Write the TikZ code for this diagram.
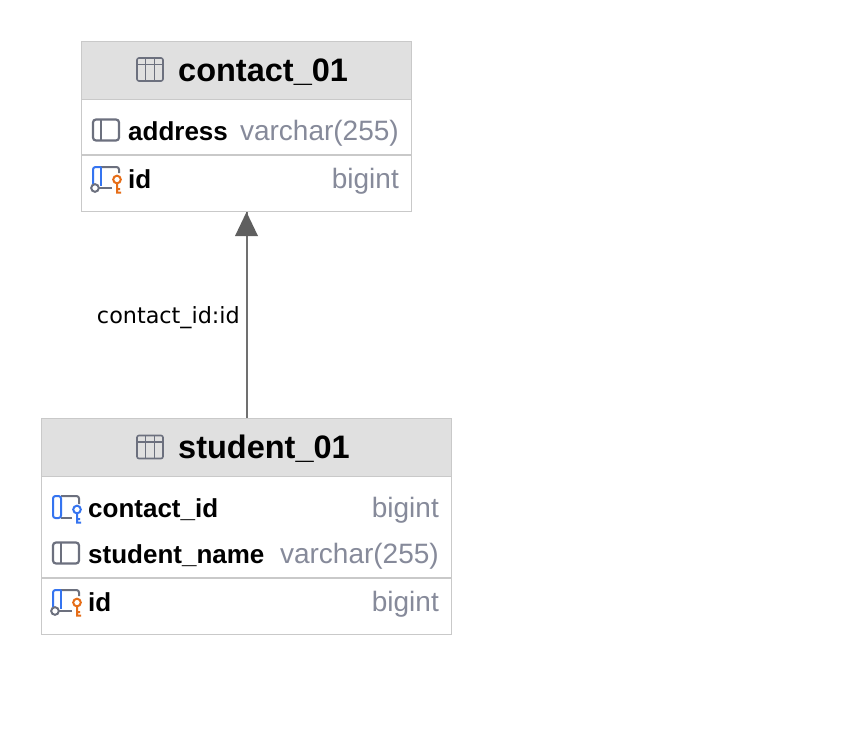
\documentclass[tikz,border=0pt]{standalone}
\usepackage{fontspec}
\setmainfont{Liberation Sans}
\newfontfamily\labelfont{DejaVu Sans}
\definecolor{headfill}{HTML}{E0E0E0}
\definecolor{boxline}{HTML}{C9C9C9}
\definecolor{typegrey}{HTML}{868A9A}
\definecolor{icongrey}{HTML}{6C707E}
\definecolor{keyblue}{HTML}{3574F0}
\definecolor{keyorange}{HTML}{E66D17}
\definecolor{arrowgrey}{HTML}{5F5F5F}
\definecolor{linkgrey}{HTML}{707070}
\tikzset{
  tablebox/.style={draw=boxline, line width=1.2pt, fill=white},
  headbox/.style={draw=boxline, line width=1.2pt, fill=headfill},
  rowline/.style={draw=boxline, line width=1.8pt},
  title/.style={anchor=base west, inner sep=0pt, font=\fontsize{32.5}{36}\selectfont\bfseries},
  colname/.style={anchor=base west, inner sep=0pt, font=\fontsize{26}{30}\selectfont\bfseries},
  coltype/.style={anchor=base east, inner sep=0pt, text=typegrey, font=\fontsize{28}{32}\selectfont},
  link/.style={draw=linkgrey, line width=2pt},
  tableicon/.pic={
    \draw[icongrey, line width=1.6pt, rounded corners=2pt] (-13,-11.5) rectangle (13,11.5);
    \draw[icongrey, line width=1.6pt] (-13,-5) -- (13,-5) (-4.5,-11.5) -- (-4.5,11.5) (4.5,-11.5) -- (4.5,11.5);
  },
  colicon/.pic={
    \draw[icongrey, line width=2.2pt, rounded corners=3pt] (-13,-10.5) rectangle (13,10.5);
    \draw[icongrey, line width=2.2pt] (-5,-10.5) -- (-5,10.5);
  },
  pkicon/.pic={
    \draw[icongrey, line width=2pt, rounded corners=2.5pt] (-5,-11) -- (13,-11) -- (13,-5);
    \draw[keyblue, line width=2pt, rounded corners=2.5pt] (-5,-11) -- (-13,-11) -- (-13,6);
    \draw[keyblue, line width=2pt] (-5,-11) -- (-5,8);
    \draw[icongrey, line width=2pt] (-11,10) circle (3.8);
    \draw[icongrey, line width=2pt] (-7,10) -- (6,10);
    \draw[keyorange, line width=2pt] (11,1.5) circle (3.8) (11,5.5) -- (11,14.5) -- (15,14.5) (11,11) -- (14,11);
  },
  fkicon/.pic={
    \draw[icongrey, line width=2pt, rounded corners=2.5pt] (-5,-11) -- (13,-11) -- (13,-3);
    \draw[icongrey, line width=2pt] (-5,11) -- (6,11);
    \draw[keyblue, line width=2pt, rounded corners=2.5pt] (-5,-11) -- (-13,-11) -- (-13,11) -- (-5,11) -- cycle;
    \draw[keyblue, line width=2pt] (11,2.5) circle (3.8) (11,6.5) -- (11,15.5) -- (15,15.5) (11,12) -- (14,12);
  }
}
\begin{document}
\begin{tikzpicture}[x=1pt, y=-1pt]
  \useasboundingbox (0,0) rectangle (846,750);
  % contact_01
  \node[tablebox, minimum width=330pt, minimum height=170pt, anchor=north west] (contactbox) at (80.5,40.5) {};
  \node[headbox, minimum width=330pt, minimum height=58pt, anchor=north west] (contacthead) at (80.5,40.5) {};
  \draw[rowline] (81,155) -- (411,155);
  \pic at (150,69.5) {tableicon};
  \node[title] (contacttitle) at (178,81.5) {contact\_01};
  \pic at (106,130) {colicon};
  \node[colname] (address) at (128,140) {address};
  \node[coltype] (addresstype) at (399,140) {varchar(255)};
  \pic at (106,178) {pkicon};
  \node[colname] (contactid) at (128,188) {id};
  \node[coltype] (contactidtype) at (399,188) {bigint};
  % student_01
  \node[tablebox, minimum width=410pt, minimum height=216pt, anchor=north west] (studentbox) at (40.5,417.5) {};
  \node[headbox, minimum width=410pt, minimum height=58pt, anchor=north west] (studenthead) at (40.5,417.5) {};
  \draw[rowline] (41,578) -- (451,578);
  \pic at (150,447) {tableicon};
  \node[title] (studenttitle) at (178,458.5) {student\_01};
  \pic at (66,507) {fkicon};
  \node[colname] (fkcontact) at (88,517) {contact\_id};
  \node[coltype] (fkcontacttype) at (439,517) {bigint};
  \pic at (66,553) {colicon};
  \node[colname] (studentname) at (88,563) {student\_name};
  \node[coltype] (studentnametype) at (439,563) {varchar(255)};
  \pic at (66,601) {pkicon};
  \node[colname] (studentid) at (88,611) {id};
  \node[coltype] (studentidtype) at (439,611) {bigint};
  % link
  \draw[link] (studenthead.north -| 246.5,0) -- (contactbox.south -| 246.5,0);
  \fill[arrowgrey] (246.5,212) -- (258,236) -- (235,236) -- cycle;
  \node[anchor=base east, inner sep=0pt, font=\labelfont\fontsize{22.3}{28}\selectfont] (linklabel) at (240,323.5) {contact\_id:id};
\end{tikzpicture}
\end{document}
